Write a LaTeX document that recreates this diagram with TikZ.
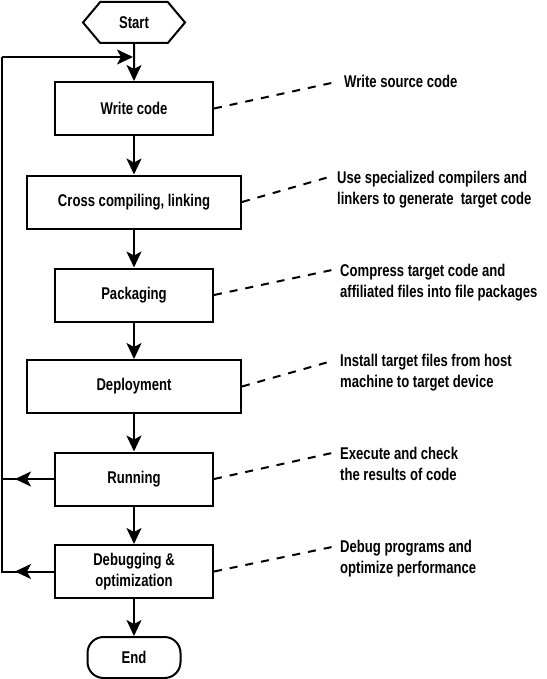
\documentclass[tikz,border=0pt]{standalone}
\usepackage{fontspec}
\setmainfont{Liberation Sans}[FakeStretch=0.77]
\usetikzlibrary{arrows.meta,calc,shapes.symbols}

\begin{document}
\begin{tikzpicture}[x=1pt, y=-1pt,
    every node/.style={font=\fontsize{17}{20.5}\selectfont\bfseries},
    stepbox/.style={draw, line width=2pt, minimum height=53pt, align=center, inner sep=2pt},
    narrow/.style={stepbox, minimum width=158pt},
    wide/.style={stepbox, minimum width=214pt},
    note/.style={anchor=base west, align=left, inner sep=0pt},
    flow/.style={line width=2pt, -{Stealth[length=16pt, width=15pt, inset=4pt]}},
    link/.style={line width=2pt},
    remark/.style={line width=2pt, dash pattern=on 8pt off 8pt}]

    \useasboundingbox (0,0) rectangle (546,679);

    % terminals
    \node [draw, line width=2pt, shape=signal, signal to=west and east,
      signal pointer angle=100, minimum width=102pt, minimum height=41pt,
      inner sep=0pt] (start) at (134, 22.5) {Start};
    \node [draw, line width=2pt, rounded corners=16pt, minimum width=93pt,
      minimum height=41pt] (end) at (134, 657.5) {End};

    % steps
    \node [narrow] (write)  at (134, 108.5) {Write code};
    \node [wide]   (cross)  at (134, 202)   {Cross compiling, linking};
    \node [narrow] (pack)   at (134, 295)   {Packaging};
    \node [wide]   (deploy) at (134, 386.5) {Deployment};
    \node [narrow] (run)    at (134, 479)   {Running};
    \node [narrow] (debug)  at (134, 571.5) {Debugging \&\\optimization};

    % main flow
    \foreach \a/\b in {start/write, write/cross, cross/pack, pack/deploy,
                       deploy/run, run/debug, debug/end} {
      \draw [flow] (\a) -- (\b);
    }

    % feedback loop
    \coordinate (top)       at (2, 57);
    \coordinate (join)      at (133, 57);
    \coordinate (runleft)   at (2, 479);
    \coordinate (debugleft) at (2, 571.5);
    \draw [link] (debug.west) -- (debugleft) -- (top);
    \draw [flow] (top) -- (join);
    \draw [link] (run.west) -- (runleft);
    \draw [flow] (run.west) -- ($(run.west)!0.75!(runleft)$);
    \draw [flow] (debug.west) -- ($(debug.west)!0.75!(debugleft)$);

    % notes (anchored at the baseline of their last line)
    \node [note] (n1) at (344,  88) {Write source code};
    \node [note] (n2) at (337, 204) {Use specialized compilers and\\
      linkers to generate \ target code};
    \node [note] (n3) at (340, 297) {Compress target code and\\
      affiliated files into file packages};
    \node [note] (n4) at (340, 387) {Install target files from host\\
      machine to target device};
    \node [note] (n5) at (340, 480) {Execute and check\\the results of code};
    \node [note] (n6) at (340, 573) {Debug programs and\\optimize performance};

    \foreach \b/\n/\d in {write/n1/6, cross/n2/27, pack/n3/27, deploy/n4/26,
                          run/n5/27, debug/n6/26} {
      \draw [remark] (\b.east) -- ($(\n.base west)+(-8,-\d)$);
    }
\end{tikzpicture}
\end{document}
